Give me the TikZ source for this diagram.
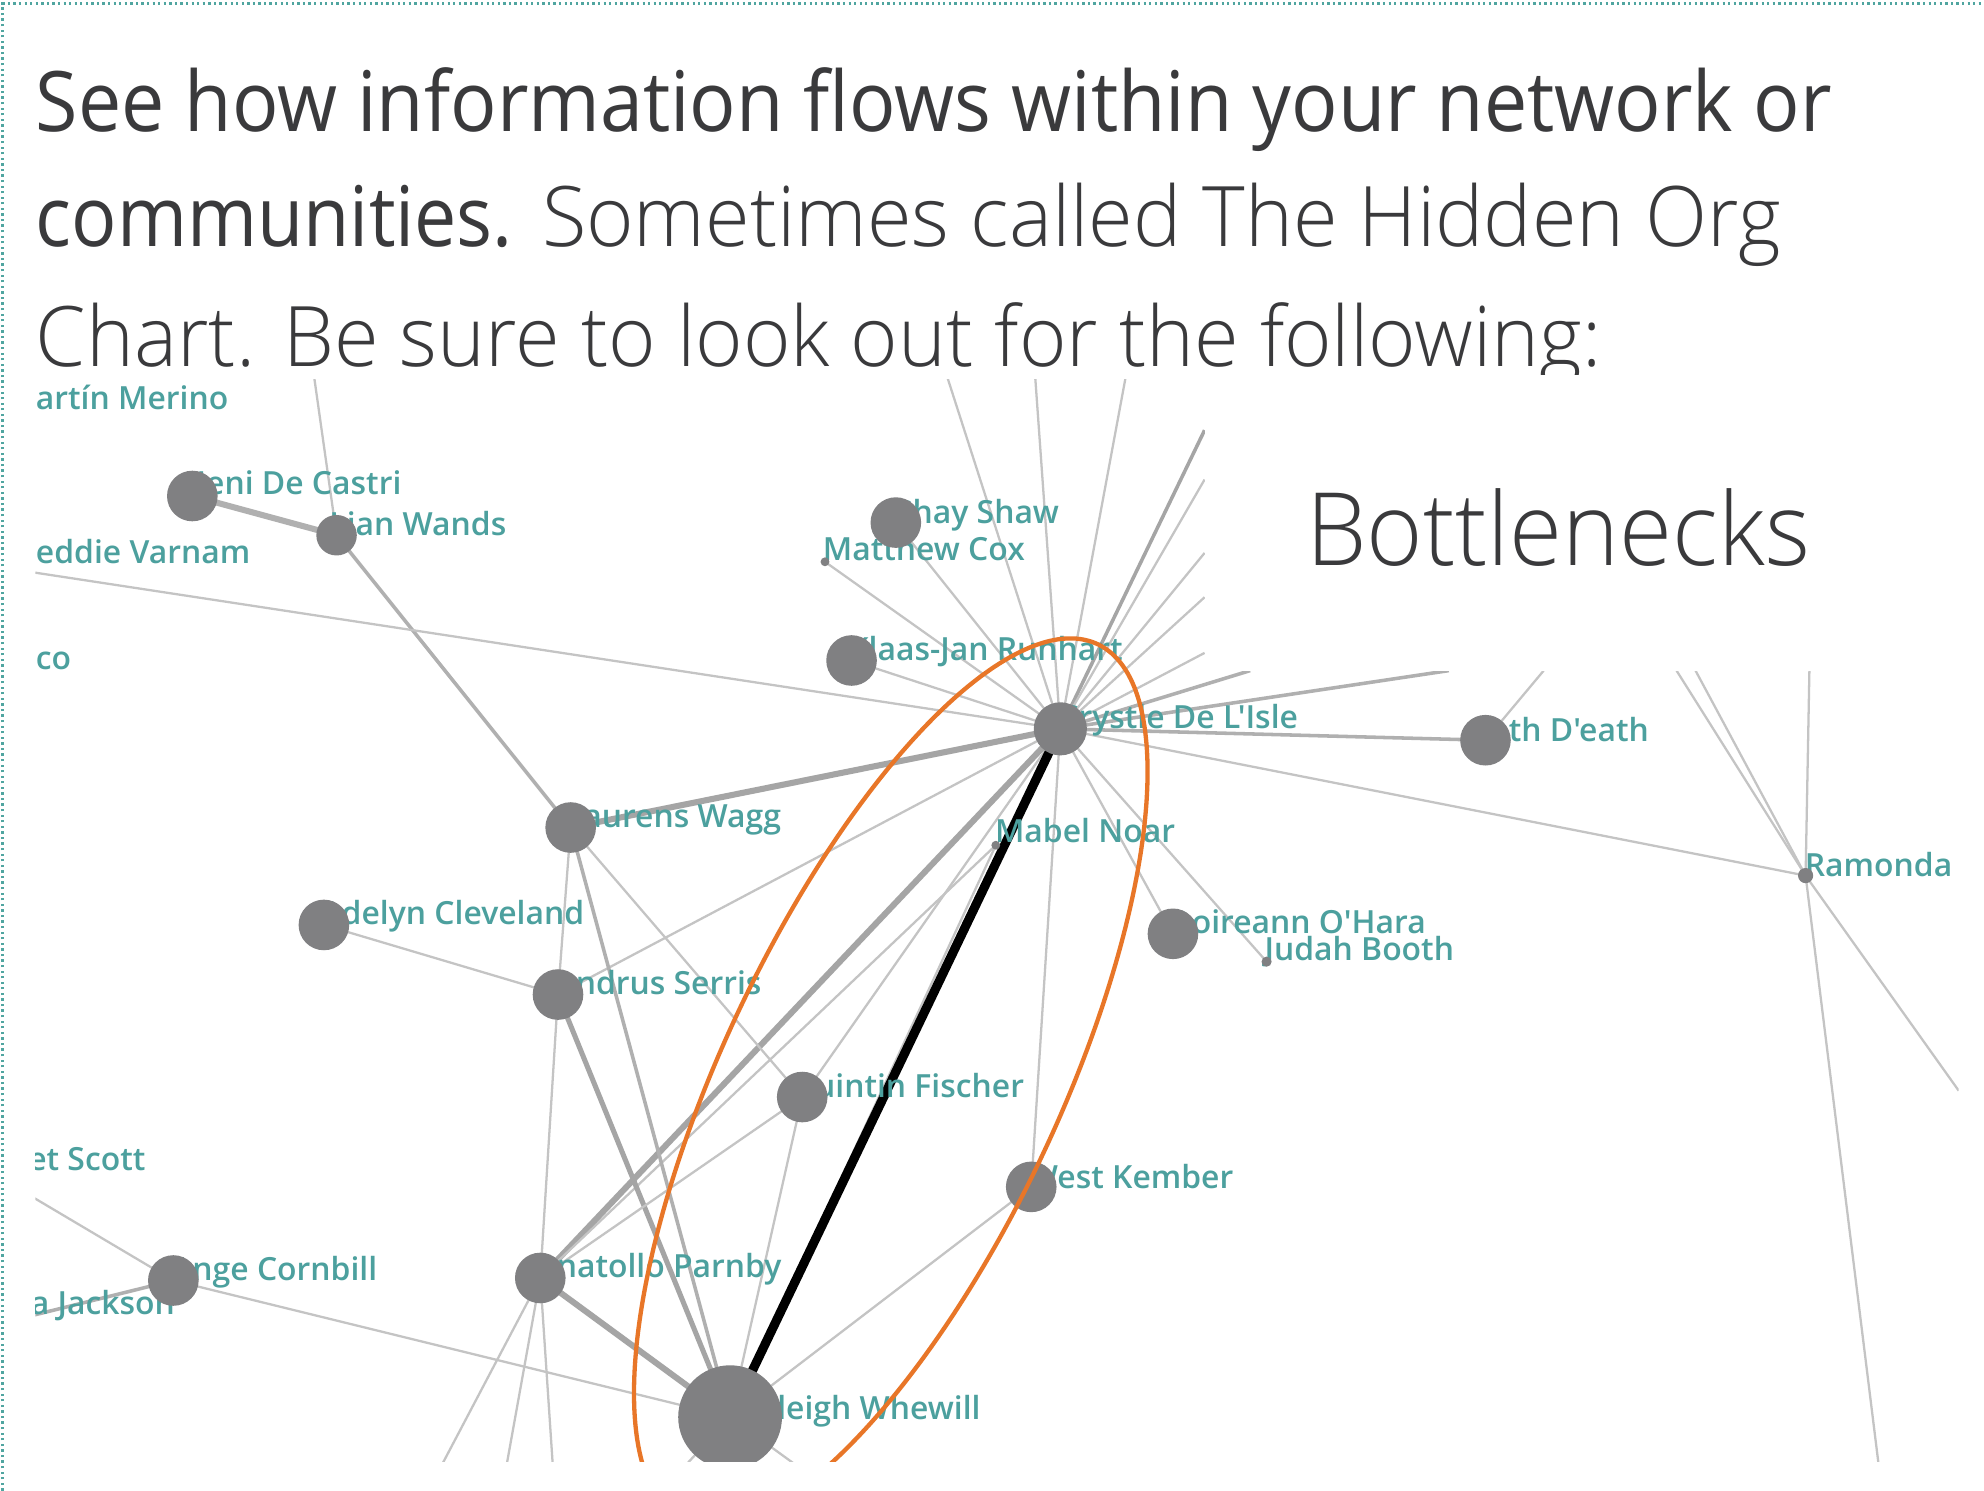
\documentclass[tikz,border=0pt]{standalone}
\usepackage{fontspec}
\usepackage{graphicx}
\setmainfont{Open Sans}
\IfFontExistsTF{Open Sans Light}{\newfontfamily\lightfont{Open Sans Light}}{\newfontfamily\lightfont{Open Sans}}
\IfFontExistsTF{Open Sans SemiBold}{\newfontfamily\semifont{Open Sans SemiBold}}{%
  \IfFontExistsTF{Open Sans Semibold}{\newfontfamily\semifont{Open Sans Semibold}}{\newfontfamily\semifont{Open Sans}}}
\IfFontExistsTF{Open Sans Medium}{\newfontfamily\medfont{Open Sans Medium}}{\newfontfamily\medfont{Open Sans}}
\definecolor{hdr}{RGB}{58,58,60}
\definecolor{tealtxt}{RGB}{76,160,158}
\definecolor{ndgray}{RGB}{128,128,130}
\definecolor{elight}{RGB}{196,196,196}
\definecolor{emid}{RGB}{176,176,176}
\definecolor{ethick}{RGB}{165,165,165}
\definecolor{orng}{RGB}{232,118,40}
\definecolor{brd}{RGB}{80,165,160}
\begin{document}
\begin{tikzpicture}[x=0.5pt,y=-0.5pt,
  e/.style={draw=elight, line width=0.9pt},
  em/.style={draw=emid, line width=1.4pt},
  et/.style={draw=ethick, line width=2.4pt},
  eb/.style={draw=black, line width=3.6pt},
  nd/.style={circle, fill=ndgray, inner sep=0pt, minimum size=#1},
  lab/.style={anchor=base west, inner sep=0pt, text=tealtxt, font=\semifont\fontsize{12.6}{14}\selectfont},
  hd/.style={anchor=base west, inner sep=0pt, text=hdr, font=\fontsize{33}{40}\selectfont}]
\useasboundingbox (0,0) rectangle (1568,1178);
\fill[white] (0,0) rectangle (1568,1178);
% border
\draw[brd, line width=1.1pt, dash pattern=on 0.9pt off 1.3pt] (2,1178) -- (2,3) -- (1568,3);
% header
\node[hd] (h1) at (28,104) {\resizebox{709.5pt}{\height}{\medfont See how information flows within your network or}};
\node[hd] (h2a) at (28,195) {\resizebox{188.5pt}{\height}{\medfont communities.}};
\node[hd] (h2b) at (428,195) {\resizebox{489.5pt}{\height}{\lightfont Sometimes called The Hidden Org}};
\node[hd] (h3) at (28,290) {\resizebox{618.5pt}{\height}{\lightfont Chart. Be sure to look out for the following:}};
% coordinates of people
\coordinate (JD) at (152,392);
\coordinate (LW) at (266,423);
\coordinate (LA) at (451,654);
\coordinate (AC) at (256,731);
\coordinate (AS) at (441,786);
\coordinate (QF) at (634,867);
\coordinate (WK) at (815,938);
\coordinate (AP) at (427,1010);
\coordinate (FW) at (577,1120);
\coordinate (ACo) at (137,1012);
\coordinate (CD) at (838,576);
\coordinate (KJ) at (673,522);
\coordinate (SS) at (708,413);
\coordinate (MC) at (652,444);
\coordinate (MN) at (787,668);
\coordinate (DO) at (927,738);
\coordinate (JB) at (1001,760);
\coordinate (JE) at (1174,585);
\coordinate (RA) at (1427,692);
% free ends
\coordinate (t1) at (248,296);
\coordinate (t2) at (748,296);
\coordinate (t3) at (818,296);
\coordinate (t4) at (890,296);
\coordinate (b1) at (952,340);
\coordinate (b2) at (952,379);
\coordinate (b3) at (952,437);
\coordinate (b4) at (952,472);
\coordinate (b5) at (952,516);
\coordinate (b6) at (988,530);
\coordinate (r1) at (1145,530);
\coordinate (r2) at (1220,530);
\coordinate (r3) at (1325,530);
\coordinate (r4) at (1340,530);
\coordinate (r5) at (1430,530);
\coordinate (r6) at (1485,1160);
\coordinate (r7) at (1548,862);
\coordinate (lv) at (24,452);
\coordinate (ls) at (24,945);
\coordinate (lj) at (24,1040);
\coordinate (d1) at (348,1160);
\coordinate (d2) at (400,1160);
\coordinate (d3) at (437,1160);
\coordinate (d4) at (540,1160);
\coordinate (d5) at (632,1160);
\begin{scope}
\clip (28,300) rectangle (1548,1155);
% edges
\draw[e] (LW) -- (t1);
\draw[em] (LW) -- (LA);
\draw[et, draw=emid] (JD) -- (LW);
\draw[e] (lv) -- (CD);
\draw[e] (CD) -- (t2);
\draw[e] (CD) -- (t3);
\draw[e] (CD) -- (t4);
\draw[em, draw=ethick] (CD) -- (b1);
\draw[e] (CD) -- (b2);
\draw[e] (CD) -- (b3);
\draw[e] (CD) -- (b4);
\draw[e] (CD) -- (b5);
\draw[em] (CD) -- (b6);
\draw[em] (CD) -- (r1);
\draw[em] (CD) -- (JE);
\draw[e] (CD) -- (RA);
\draw[e] (CD) -- (DO);
\draw[e] (CD) -- (JB);
\draw[e] (CD) -- (WK);
\draw[e] (CD) -- (QF);
\draw[e] (CD) -- (AS);
\draw[e] (CD) -- (KJ);
\draw[e] (CD) -- (SS);
\draw[e] (CD) -- (MC);
\draw[et] (CD) -- (LA);
\draw[et] (CD) -- (AP);
\draw[e] (MN) -- (FW);
\draw[e] (MN) -- (AP);
\draw[e] (LA) -- (AS);
\draw[e] (LA) -- (QF);
\draw[em] (LA) -- (FW);
\draw[e] (AC) -- (AS);
\draw[e] (AS) -- (AP);
\draw[et, line width=2pt] (AS) -- (FW);
\draw[et] (AP) -- (FW);
\draw[e] (AP) -- (QF);
\draw[e] (AP) -- (d1);
\draw[e] (AP) -- (d2);
\draw[e] (AP) -- (d3);
\draw[e] (QF) -- (FW);
\draw[e] (WK) -- (FW);
\draw[e] (ACo) -- (FW);
\draw[e] (ACo) -- (ls);
\draw[em] (ACo) -- (lj);
\draw[e] (FW) -- (d4);
\draw[e] (FW) -- (d5);
\draw[e] (JE) -- (r2);
\draw[e] (RA) -- (r3);
\draw[e] (RA) -- (r4);
\draw[e] (RA) -- (r5);
\draw[e] (RA) -- (r6);
\draw[e] (RA) -- (r7);
\draw[eb] (CD) -- (FW);
% labels
\node[lab] (lJD) at (155,391) {Jeni De Castri};
\node[lab] (lLW) at (260,423) {Lian Wands};
\node[lab] (lLA) at (447,654) {Laurens Wagg};
\node[lab] (lAC) at (253,731) {Adelyn Cleveland};
\node[lab] (lAS) at (438,786) {Andrus Serris};
\node[lab] (lQF) at (624,867) {Quintin Fischer};
\node[lab] (lWK) at (812,939) {West Kember};
\node[lab] (lAP) at (423,1010) {Anatollo Parnby};
\node[lab] (lFW) at (575,1122) {Farleigh Whewill};
\node[lab] (lACo) at (135,1012) {Ange Cornbill};
\node[lab] (lCD) at (836,576) {Crystle De L'Isle};
\node[lab] (lKJ) at (670,522) {Klaas-Jan Runhart};
\node[lab] (lSS) at (707,414) {Shay Shaw};
\node[lab] (lMC) at (650,443) {Matthew Cox};
\node[lab] (lMN) at (786,666) {Mabel Noar};
\node[lab] (lDO) at (923,738) {Doireann O'Hara};
\node[lab] (lJB) at (999,759) {Judah Booth};
\node[lab] (lJE) at (1170,586) {Jeth D'eath};
\node[lab] (lRA) at (1426,693) {Ramonda};
\node[lab] (lx1) at (28,324) {artín Merino};
\node[lab] (lx2) at (28,445) {eddie Varnam};
\node[lab] (lx3) at (28,529) {co};
\node[lab] (lx4) at (22,925) {et Scott};
\node[lab] (lx5) at (24,1039) {a Jackson};
% circles
\node[nd=20pt] (nJD) at (JD) {};
\node[nd=16pt] (nLW) at (LW) {};
\node[nd=20pt] (nLA) at (LA) {};
\node[nd=20pt] (nAC) at (AC) {};
\node[nd=20pt] (nAS) at (AS) {};
\node[nd=20pt] (nQF) at (QF) {};
\node[nd=20pt] (nWK) at (WK) {};
\node[nd=20pt] (nAP) at (AP) {};
\node[nd=41pt] (nFW) at (FW) {};
\node[nd=20pt] (nACo) at (ACo) {};
\node[nd=21pt] (nCD) at (CD) {};
\node[nd=20pt] (nKJ) at (KJ) {};
\node[nd=20pt] (nSS) at (SS) {};
\node[nd=3.5pt] (nMC) at (MC) {};
\node[nd=3.5pt] (nMN) at (MN) {};
\node[nd=20pt] (nDO) at (DO) {};
\node[nd=4pt] (nJB) at (JB) {};
\node[nd=20pt] (nJE) at (JE) {};
\node[nd=6pt] (nRA) at (RA) {};
% bottleneck ellipse
\draw[orng, line width=1.7pt] plot[domain=0:360, samples=140, smooth cycle, variable=\t]
  ({704+145*cos(\t)+142*sin(\t)}, {855.5-351*sin(\t)});
\end{scope}
% title box
\fill[white] (952,296) rectangle (1568,530);
\node[anchor=base west, inner sep=0pt, text=hdr, font=\fontsize{40}{44}\selectfont] (bt) at (1032,447) {\resizebox{199pt}{\height}{\lightfont Bottlenecks}};
\end{tikzpicture}
\end{document}
